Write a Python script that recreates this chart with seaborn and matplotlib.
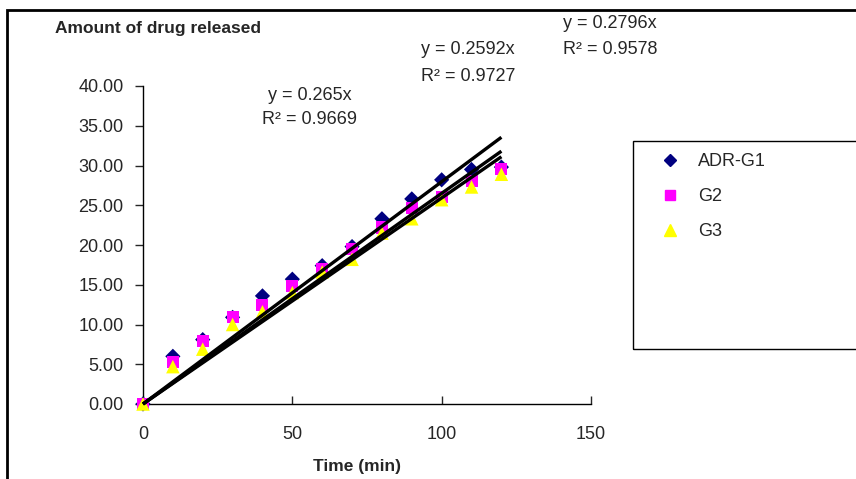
import numpy as np
import pandas as pd
import matplotlib
matplotlib.use("Agg")
import matplotlib.pyplot as plt
import seaborn as sns
from matplotlib.patches import Rectangle
from matplotlib.lines import Line2D

# data
time_min = [0, 10, 20, 30, 40, 50, 60, 70, 80, 90, 100, 110, 120]
adr_g1 = [0.0, 6.0, 8.1, 10.9, 13.6, 15.7, 17.4, 19.8, 23.3, 25.8, 28.2, 29.5, 29.8]
g2 = [0.0, 5.3, 7.9, 11.0, 12.4, 14.8, 17.0, 19.5, 22.2, 24.6, 26.0, 28.0, 29.5]
g3 = [0.0, 4.7, 6.9, 10.0, 11.6, 14.0, 16.6, 18.2, 21.5, 23.3, 25.7, 27.3, 28.9]
series_names = ["ADR-G1", "G2", "G3"]

# trendlines through the origin, as labelled in the chart
slopes = [0.265, 0.2592, 0.2796]
r2_values = [0.9669, 0.9727, 0.9578]
trend_x = [0, 120]

df = pd.DataFrame({
    "time": time_min * 3,
    "amount": adr_g1 + g2 + g3,
    "series": sum([[n] * len(time_min) for n in series_names], []),
})

sns.set_style("white")
plt.rcParams["font.family"] = ["Liberation Sans", "DejaVu Sans"]

W, H = 856, 479
fig = plt.figure(figsize=(W / 100, H / 100), dpi=100)


def fx(px):
    return px / W


def fy(py):
    return 1 - py / H


ax = fig.add_axes([fx(143), fy(404), fx(591) - fx(143), fy(86) - fy(404)])

colors = {"ADR-G1": "#000080", "G2": "#FF00FF", "G3": "#FFFF00"}
markers = {"ADR-G1": "D", "G2": "s", "G3": "^"}
sizes = {"ADR-G1": 60, "G2": 75, "G3": 95}

for name in series_names:
    sub = df[df["series"] == name]
    sns.scatterplot(data=sub, x="time", y="amount", color=colors[name],
                    marker=markers[name], s=sizes[name], edgecolor="none",
                    ax=ax, clip_on=False, zorder=3, legend=False)

for k in slopes:
    ax.plot(trend_x, [k * x for x in trend_x], color="black", lw=2.4,
            zorder=4, clip_on=False, solid_capstyle="butt")

ax.set_xlim(0, 150)
ax.set_ylim(0, 40)
ax.set_xticks([0, 50, 100, 150])
ax.set_yticks(np.arange(0, 41, 5))
ax.set_yticklabels([f"{v:.2f}" for v in np.arange(0, 41, 5)])
ax.tick_params(axis="y", direction="out", length=6, width=1, labelsize=13, pad=8, left=True)
ax.tick_params(axis="x", direction="in", length=6, width=1, labelsize=13, pad=16, bottom=True)
sns.despine(ax=ax)
for sp in ["left", "bottom"]:
    ax.spines[sp].set_color("black")
    ax.spines[sp].set_linewidth(1)
ax.set_xlabel("")
ax.set_ylabel("")
ax.patch.set_alpha(0)

# titles
fig.text(fx(55), fy(28), "Amount of drug released", fontsize=12.5, fontweight="bold",
         ha="left", va="center")
fig.text(fx(357), fy(467), "Time (min)", fontsize=12.5, fontweight="bold",
         ha="center", va="center")

# trendline labels
label_pos = [(310, 96, 120), (468, 50, 76), (610, 23, 49)]
for k, r2, (px, py1, py2) in zip(slopes, r2_values, label_pos):
    fig.text(fx(px), fy(py1), f"y = {k:g}x", fontsize=13, ha="center", va="center")
    fig.text(fx(px), fy(py2), f"R² = {r2:.4f}", fontsize=13, ha="center", va="center")

# outer chart border (cut off at right and bottom)
fig.patches.append(Rectangle((fx(7), fy(500)), 2, fy(10) - fy(500),
                             transform=fig.transFigure, fill=False,
                             edgecolor="black", lw=2))

# legend box
fig.patches.append(Rectangle((fx(633), fy(349)), 1, fy(141) - fy(349),
                             transform=fig.transFigure, fill=False,
                             edgecolor="black", lw=1))
handles = [Line2D([], [], linestyle="none", marker=markers[n], color=colors[n],
                  markersize={"ADR-G1": 6, "G2": 7, "G3": 9}[n]) for n in series_names]
fig.legend(handles, series_names, loc="upper left",
           bbox_to_anchor=(fx(640), fy(137)), frameon=False, fontsize=13,
           handletextpad=0.8, labelspacing=1.0, handlelength=1.5)

fig.savefig("out.png", dpi=100)
